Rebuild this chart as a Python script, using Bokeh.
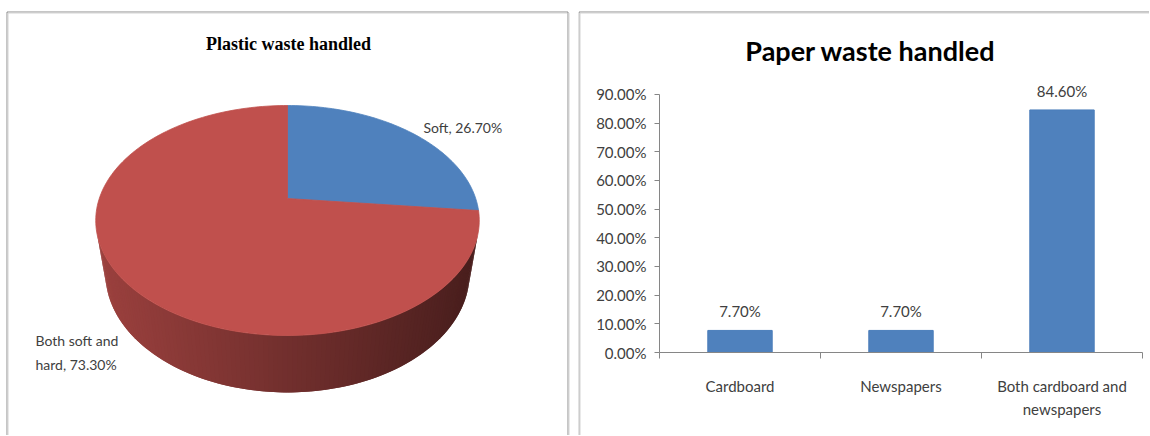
import math
from bokeh.plotting import figure
from bokeh.layouts import row
from bokeh.models import Range1d, LinearAxis, FixedTicker, NumeralTickFormatter
from bokeh.core.properties import value
from bokeh.embed import file_html
from bokeh.resources import INLINE

# ---------------- data ----------------
pie_title = "Plastic waste handled"
pie_labels = ["Soft", "Both soft and\nhard"]
pie_values = [26.7, 73.3]
pie_colors = ["#4f81bd", "#c0504d"]

bar_title = "Paper waste handled"
bar_categories = ["Cardboard", "Newspapers", "Both cardboard and\nnewspapers"]
bar_values = [0.077, 0.077, 0.846]
y_ticks = [0.0, 0.1, 0.2, 0.3, 0.4, 0.5, 0.6, 0.7, 0.8, 0.9]

FONT = "Lato"
TXT = "#404040"
H = 435
W_L, W_R = 578, 571

# ---------------- left: 3D pie ----------------
pl = figure(width=W_L, height=H, x_range=Range1d(0, W_L), y_range=Range1d(H, 0),
            min_border=0, toolbar_location=None, output_backend="svg",
            x_axis_location=None, y_axis_location=None)
pl.outline_line_color = None
pl.grid.visible = False

# panel border
pl.line([6.5, 6.5, 567.5, 567.5], [450, 11.5, 11.5, 450], line_color="#8c8c8c", line_width=1)
pl.line([7.5, 7.5, 566.5], [450, 12.5, 12.5], line_color="#d4d4d4", line_width=1)
pl.line([568.5, 568.5], [12.5, 450], line_color="#d4d4d4", line_width=1)

# perspective projection parameters
CX, CY = 287.0, 198.0
FOC, DIST, SA, CA, THK = 795.6, 4.227, 0.5886, 0.8085, 0.368

def proj(theta, Y):
    x3, z = math.sin(theta), math.cos(theta)
    depth = DIST - Y * SA + z * CA
    up = Y * CA + z * SA
    return CX + FOC * x3 / depth, CY - FOC * up / depth

total = sum(pie_values)
bounds = []
acc = 0.0
for v in pie_values:
    a0 = acc / total * 2 * math.pi
    acc += v
    a1 = acc / total * 2 * math.pi
    bounds.append((a0, a1))

def slice_of(theta):
    for i, (a0, a1) in enumerate(bounds):
        if a0 <= theta <= a1:
            return i
    return len(bounds) - 1

def hex_to_rgb(hc):
    hc = hc.lstrip("#")
    return tuple(int(hc[i:i + 2], 16) for i in (0, 2, 4))

# side (visible part of the cylinder wall)
ts = math.acos(-1.0 / (DIST * CA))
te = 2 * math.pi - ts
N = 120
xl_s = proj(te, 0)[0]
xr_s = proj(ts, 0)[0]
sxs, sys_, scol = [], [], []
for i in range(N):
    t0 = ts + (te - ts) * i / N
    t1 = ts + (te - ts) * min(i + 2, N) / N
    pts = [proj(t0, 0), proj(t1, 0), proj(t1, -THK), proj(t0, -THK)]
    tm = ts + (te - ts) * (i + 0.5) / N
    xm = proj(tm, 0)[0]
    frac = (xm - xl_s) / (xr_s - xl_s)
    k = 0.81 + (0.38 - 0.81) * frac
    r, g, b = hex_to_rgb(pie_colors[slice_of(tm)])
    scol.append("#%02x%02x%02x" % (int(r * k), int(g * k), int(b * k)))
    sxs.append([p[0] for p in pts])
    sys_.append([p[1] for p in pts])
pl.patches(sxs, sys_, fill_color=scol, line_color=None)

# top face slices
for (a0, a1), col in zip(bounds, pie_colors):
    n = max(4, int((a1 - a0) / (2 * math.pi) * 240))
    xs, ys = [CX], [CY]
    for j in range(n + 1):
        t = a0 + (a1 - a0) * j / n
        px, py = proj(t, 0)
        xs.append(px)
        ys.append(py)
    pl.patch(xs, ys, fill_color=col, line_color=col, line_width=0.8)

pl.text(x=[288], y=[43], text=[pie_title], text_font=value("Liberation Serif"),
        text_font_style="bold", text_font_size="18px", text_color="#000000",
        text_align="center", text_baseline="middle")

pie_texts = [f"{lab}, {v:.2f}%" for lab, v in zip(pie_labels, pie_values)]
pl.text(x=[423, 35], y=[127, 352], text=pie_texts,
        text_font=value(FONT), text_font_size="14px", text_color=TXT,
        text_align="left", text_baseline="middle", text_line_height=1.4)

# ---------------- right: bar chart ----------------
X0, PXX = 659.0, 161.0
Y0, PXY = 352.0, 286.7
PAGE_L = W_L

def rx(px):
    return (px - X0) / PXX
def ry(py):
    return (Y0 - py) / PXY

pr = figure(width=W_R, height=H, x_range=Range1d(rx(PAGE_L), rx(PAGE_L + W_R)),
            y_range=Range1d(ry(H), ry(0)), min_border=0, toolbar_location=None,
            output_backend="svg", x_axis_location=None, y_axis_location=None)
pr.outline_line_color = None
pr.grid.visible = False

pr.line([rx(578.5), rx(578.5), rx(1160)], [ry(450), ry(11.5), ry(11.5)],
        line_color="#8c8c8c", line_width=1)
pr.line([rx(579.5), rx(579.5), rx(1160)], [ry(450), ry(12.5), ry(12.5)],
        line_color="#d4d4d4", line_width=1)

xs_bar = [i + 0.5 for i in range(len(bar_categories))]
pr.vbar(x=xs_bar, top=bar_values, bottom=0, width=0.4,
        fill_color="#4f81bd", line_color="#4a7dba", line_width=1)

pr.text(x=xs_bar, y=bar_values, text=[f"{v * 100:.2f}%" for v in bar_values],
        text_font=value(FONT), text_font_size="15px", text_color=TXT,
        text_align="center", text_baseline="middle", y_offset=-19)

pr.text(x=[rx(870)], y=[ry(50)], text=[bar_title], text_font=value(FONT),
        text_font_style="bold", text_font_size="27px", text_color="#000000",
        text_align="center", text_baseline="middle")

yax = LinearAxis(fixed_location=0, ticker=FixedTicker(ticks=y_ticks),
                 formatter=NumeralTickFormatter(format="0.00%"),
                 bounds=(y_ticks[0], y_ticks[-1]))
yax.axis_line_color = "#868686"
yax.major_tick_line_color = "#868686"
yax.major_tick_in = 0
yax.major_tick_out = 5
yax.minor_tick_line_color = None
yax.major_label_text_font = FONT
yax.major_label_text_font_size = "15px"
yax.major_label_text_color = TXT
yax.major_label_standoff = 8
pr.add_layout(yax, "left")

xtick = LinearAxis(fixed_location=0, ticker=FixedTicker(ticks=list(range(len(bar_categories) + 1))),
                   bounds=(0, len(bar_categories)))
xtick.axis_line_color = "#868686"
xtick.major_tick_line_color = "#868686"
xtick.major_tick_in = 0
xtick.major_tick_out = 6
xtick.minor_tick_line_color = None
xtick.major_label_text_font_size = "0px"
xtick.major_label_text_alpha = 0
pr.add_layout(xtick, "below")

xlab = LinearAxis(fixed_location=0, ticker=FixedTicker(ticks=xs_bar),
                  major_label_overrides={x: c for x, c in zip(xs_bar, bar_categories)})
xlab.axis_line_color = None
xlab.major_tick_line_color = None
xlab.minor_tick_line_color = None
xlab.major_tick_in = 0
xlab.major_tick_out = 0
xlab.major_label_text_font = FONT
xlab.major_label_text_font_size = "15px"
xlab.major_label_text_color = TXT
xlab.major_label_text_line_height = 1.3
xlab.major_label_standoff = 24
pr.add_layout(xlab, "below")

layout = row(pl, pr, spacing=0)
open("out.html", "w").write(file_html(layout, INLINE))
